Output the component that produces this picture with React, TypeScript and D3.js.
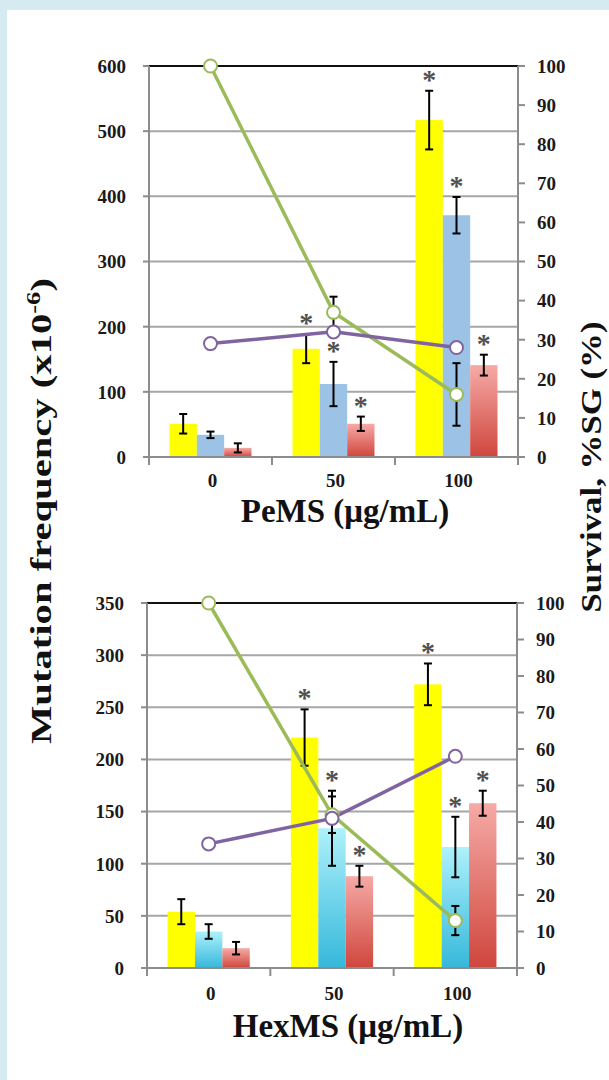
import React from 'react'
import * as d3 from 'd3'

const doses = ['0', '50', '100']
const rightTicks = [0, 10, 20, 30, 40, 50, 60, 70, 80, 90, 100]

// PeMS (top panel)
const peLeftTicks = [0, 100, 200, 300, 400, 500, 600]
const peYellow = [51, 166, 517]
const peYellowErr = [15, 22, 45]
const peBlue = [34, 112, 371]
const peBlueErr = [5, 34, 28]
const peRed = [14, 51, 141]
const peRedErr = [7, 11, 16]
const peSurvival = [100, 37, 16]
const peSurvivalErr = [0, 4, 8]
const peSG = [29, 32, 28]
const peStars = [
  [false, false, false],
  [true, true, true],
  [true, true, true],
]

// HexMS (bottom panel)
const hxLeftTicks = [0, 50, 100, 150, 200, 250, 300, 350]
const hxYellow = [54, 221, 272]
const hxYellowErr = [12, 27, 20]
const hxCyan = [35, 134, 116]
const hxCyanErr = [7, 36, 29]
const hxRed = [19, 88, 158]
const hxRedErr = [6, 10, 12]
const hxSurvival = [100, 42, 13]
const hxSurvivalErr = [0, 5, 4]
const hxSG = [34, 41, 58]
const hxStars = [
  [false, false, false],
  [true, true, true],
  [true, true, true],
]

const serif = '"Liberation Serif", "Times New Roman", serif'
const green = '#9bbb59'
const purple = '#8064a2'

interface BarSeries {
  values: number[]
  errs: number[]
  fill: string
}

interface PanelProps {
  left: number
  right: number
  top: number
  bottom: number
  leftTicks: number[]
  bars: BarSeries[]
  survival: number[]
  survivalErr: number[]
  sg: number[]
  stars: boolean[][]
  title: string
  titleX: number
  titleY: number
  tickY: number
}

function Panel(p: PanelProps) {
  const x = d3.scaleBand<string>().domain(doses).range([p.left, p.right])
  const bw = x.bandwidth()
  const inner = d3
    .scaleBand<number>()
    .domain(d3.range(p.bars.length))
    .range([bw / 6, (bw * 5) / 6])
  const yL = d3
    .scaleLinear()
    .domain([0, p.leftTicks[p.leftTicks.length - 1]])
    .range([p.bottom, p.top])
  const yR = d3.scaleLinear().domain([0, 100]).range([p.bottom, p.top])
  const cx = (d: string) => (x(d) || 0) + inner(1)! + inner.bandwidth() / 2

  const lineGen = d3
    .line<number>()
    .x((_, i) => cx(doses[i]))
    .y((v) => yR(v))

  const cap = 4

  return (
    <g>
      {/* gridlines */}
      {p.leftTicks.slice(1, -1).map((t) => (
        <line key={t} x1={p.left} x2={p.right} y1={yL(t)} y2={yL(t)} stroke="#a6a6a6" strokeWidth={2} />
      ))}
      <line x1={p.left} x2={p.right} y1={p.top} y2={p.top} stroke="#111" strokeWidth={2} />

      {/* bars */}
      {p.bars.map((s, si) =>
        doses.map((d, di) => (
          <rect
            key={`${si}-${di}`}
            x={(x(d) || 0) + inner(si)!}
            y={yL(s.values[di])}
            width={inner.bandwidth()}
            height={p.bottom - yL(s.values[di])}
            fill={s.fill}
          />
        ))
      )}

      {/* bar error bars and stars */}
      {p.bars.map((s, si) =>
        doses.map((d, di) => {
          const bx = (x(d) || 0) + inner(si)! + inner.bandwidth() / 2
          const hi = yL(s.values[di] + s.errs[di])
          const lo = yL(s.values[di] - s.errs[di])
          return (
            <g key={`e${si}-${di}`}>
              <line x1={bx} x2={bx} y1={hi} y2={lo} stroke="#000" strokeWidth={2} />
              <line x1={bx - cap} x2={bx + cap} y1={hi} y2={hi} stroke="#000" strokeWidth={2} />
              <line x1={bx - cap} x2={bx + cap} y1={lo} y2={lo} stroke="#000" strokeWidth={2} />
              {p.stars[di][si] && (
                <text
                  x={bx}
                  y={hi - 2}
                  textAnchor="middle"
                  fontFamily={serif}
                  fontWeight="bold"
                  fontSize={28}
                  fill="#505050"
                >
                  *
                </text>
              )}
            </g>
          )
        })
      )}

      {/* axes */}
      <line x1={p.left} x2={p.left} y1={p.top} y2={p.bottom} stroke="#8c8c8c" strokeWidth={2} />
      <line x1={p.right} x2={p.right} y1={p.top} y2={p.bottom} stroke="#8c8c8c" strokeWidth={2} />
      <line x1={p.left - 5} x2={p.right + 5} y1={p.bottom} y2={p.bottom} stroke="#8c8c8c" strokeWidth={2} />
      {p.leftTicks.map((t) => (
        <g key={`l${t}`}>
          <line x1={p.left - 6} x2={p.left} y1={yL(t)} y2={yL(t)} stroke="#8c8c8c" strokeWidth={2} />
          <text
            x={p.left - 23}
            y={yL(t)}
            dy="0.36em"
            textAnchor="end"
            fontFamily={serif}
            fontWeight="bold"
            fontSize={19}
            fill="#1a1a1a"
          >
            {t}
          </text>
        </g>
      ))}
      {rightTicks.map((t) => (
        <g key={`r${t}`}>
          <line x1={p.right} x2={p.right + 7} y1={yR(t)} y2={yR(t)} stroke="#8c8c8c" strokeWidth={2} />
          <text
            x={p.right + 19}
            y={yR(t)}
            dy="0.36em"
            fontFamily={serif}
            fontWeight="bold"
            fontSize={19}
            fill="#1a1a1a"
          >
            {t}
          </text>
        </g>
      ))}
      {[...doses.map((d) => x(d) || 0), p.right].map((v, i) => (
        <line key={`xt${i}`} x1={v} x2={v} y1={p.bottom} y2={p.bottom + 8} stroke="#8c8c8c" strokeWidth={2} />
      ))}
      {doses.map((d) => (
        <text
          key={`xl${d}`}
          x={(x(d) || 0) + bw / 2 + 2}
          y={p.tickY}
          textAnchor="middle"
          fontFamily={serif}
          fontWeight="bold"
          fontSize={19}
          fill="#1a1a1a"
        >
          {d}
        </text>
      ))}
      <text
        x={p.titleX}
        y={p.titleY}
        textAnchor="middle"
        fontFamily={serif}
        fontWeight="bold"
        fontSize={33}
        fill="#111"
      >
        {p.title}
      </text>

      {/* survival and %SG lines */}
      <path d={lineGen(p.survival) || ''} fill="none" stroke={green} strokeWidth={3.5} />
      <path d={lineGen(p.sg) || ''} fill="none" stroke={purple} strokeWidth={3.5} />
      {p.survival.map((v, i) => {
        if (!p.survivalErr[i]) return null
        const px = cx(doses[i])
        const hi = yR(v + p.survivalErr[i])
        const lo = yR(v - p.survivalErr[i])
        return (
          <g key={`se${i}`}>
            <line x1={px} x2={px} y1={hi} y2={lo} stroke="#000" strokeWidth={2} />
            <line x1={px - cap} x2={px + cap} y1={hi} y2={hi} stroke="#000" strokeWidth={2} />
            <line x1={px - cap} x2={px + cap} y1={lo} y2={lo} stroke="#000" strokeWidth={2} />
          </g>
        )
      })}
      {p.survival.map((v, i) => (
        <circle key={`gc${i}`} cx={cx(doses[i])} cy={yR(v)} r={6.5} fill="#fff" stroke={green} strokeWidth={2} />
      ))}
      {p.sg.map((v, i) => (
        <circle key={`pc${i}`} cx={cx(doses[i])} cy={yR(v)} r={6.5} fill="#fff" stroke={purple} strokeWidth={2} />
      ))}
    </g>
  )
}

export default function App() {
  return (
    <svg
      width={609}
      height={1080}
      style={{ position: 'absolute', left: 0, top: 0 }}
    >
      <defs>
        <linearGradient id="redGrad" x1="0" y1="0" x2="0" y2="1">
          <stop offset="0%" stopColor="#f6aaa6" />
          <stop offset="100%" stopColor="#cf463d" />
        </linearGradient>
        <linearGradient id="cyanGrad" x1="0" y1="0" x2="0" y2="1">
          <stop offset="0%" stopColor="#aef1fb" />
          <stop offset="100%" stopColor="#35b8da" />
        </linearGradient>
      </defs>
      <rect width={609} height={1080} fill="#d6ebf1" />
      <rect x={7} y={10} width={602} height={1070} fill="#fff" />

      <Panel
        left={149}
        right={518}
        top={66}
        bottom={457}
        leftTicks={peLeftTicks}
        bars={[
          { values: peYellow, errs: peYellowErr, fill: '#ffff00' },
          { values: peBlue, errs: peBlueErr, fill: '#9cc2e6' },
          { values: peRed, errs: peRedErr, fill: 'url(#redGrad)' },
        ]}
        survival={peSurvival}
        survivalErr={peSurvivalErr}
        sg={peSG}
        stars={peStars}
        title="PeMS (μg/mL)"
        titleX={345}
        titleY={522}
        tickY={487}
      />
      <Panel
        left={147}
        right={517}
        top={603}
        bottom={968}
        leftTicks={hxLeftTicks}
        bars={[
          { values: hxYellow, errs: hxYellowErr, fill: '#ffff00' },
          { values: hxCyan, errs: hxCyanErr, fill: 'url(#cyanGrad)' },
          { values: hxRed, errs: hxRedErr, fill: 'url(#redGrad)' },
        ]}
        survival={hxSurvival}
        survivalErr={hxSurvivalErr}
        sg={hxSG}
        stars={hxStars}
        title="HexMS (μg/mL)"
        titleX={348}
        titleY={1037}
        tickY={1000}
      />

      <text
        transform="translate(51,511) rotate(-90)"
        textAnchor="middle"
        fontFamily={serif}
        fontWeight="bold"
        fontSize={29}
        fill="#111"
        textLength={466}
        lengthAdjust="spacingAndGlyphs"
      >
        Mutation frequency (x10<tspan dy={-11} fontSize={19}>-6</tspan><tspan dy={11}>)</tspan>
      </text>
      <text
        transform="translate(601,467) rotate(-90)"
        textAnchor="middle"
        fontFamily={serif}
        fontWeight="bold"
        fontSize={30}
        fill="#111"
        textLength={291}
        lengthAdjust="spacingAndGlyphs"
      >
        Survival, %SG (%)
      </text>
    </svg>
  )
}
